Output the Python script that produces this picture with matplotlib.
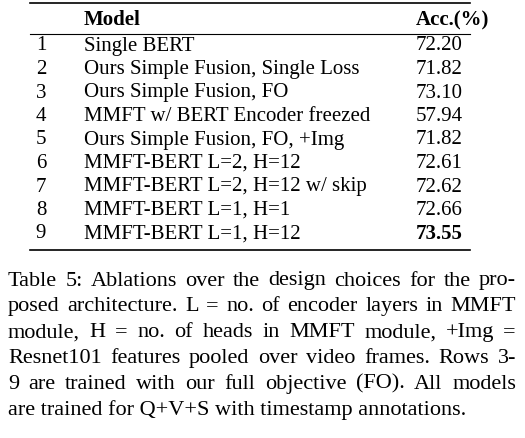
import matplotlib.pyplot as plt

plt.rcParams['font.family'] = ['Liberation Serif', 'DejaVu Serif']

row_ids = ["1", "2", "3", "4", "5", "6", "7", "8", "9"]
models = ["Single BERT",
          "Ours Simple Fusion, Single Loss",
          "Ours Simple Fusion, FO",
          "MMFT w/ BERT Encoder freezed",
          "Ours Simple Fusion, FO, +Img",
          "MMFT-BERT L=2, H=12",
          "MMFT-BERT L=2, H=12 w/ skip",
          "MMFT-BERT L=1, H=1",
          "MMFT-BERT L=1, H=12"]
accs = ["72.20", "71.82", "73.10", "57.94", "71.82", "72.61", "72.62", "72.66", "73.55"]
best = 8

caption = ["Table 5: Ablations over the design choices for the pro-",
           "posed architecture. L = no. of encoder layers in MMFT",
           "module, H = no. of heads in MMFT module, +Img =",
           "Resnet101 features pooled over video frames. Rows 3-",
           "9 are trained with our full objective (FO). All models",
           "are trained for Q+V+S with timestamp annotations."]

fig = plt.figure(figsize=(5.25, 4.38), dpi=100)
ax = fig.add_axes([0, 0, 1, 1])
ax.set_xlim(0, 525)
ax.set_ylim(438, 0)
ax.axis('off')

fs = 15
ax.plot([30, 470], [3, 3], color='black', lw=1.2)
ax.plot([30, 470], [34, 34], color='black', lw=0.8)
ax.plot([30, 470], [250, 250], color='black', lw=1.2)

ax.text(84, 20, "Model", fontsize=fs, fontweight='bold', va='center')
ax.text(416, 20, "Acc.(%)", fontsize=fs, fontweight='bold', va='center')

for i, (n, m, a) in enumerate(zip(row_ids, models, accs)):
    y = 46 + i * 23.5
    ax.text(41, y, n, fontsize=fs, va='center', ha='center')
    ax.text(84, y, m, fontsize=fs, va='center')
    ax.text(416, y, a, fontsize=fs, va='center',
            fontweight='bold' if i == best else 'normal')

# justified caption: measure words, spread the gaps to fill the line
renderer = fig.canvas.get_renderer()
left, right = 8, 516
cfs = 16
for i, line in enumerate(caption):
    y = 281 + i * 25.8
    words = line.split()
    if i == len(caption) - 1:
        ax.text(left, y, line, fontsize=cfs, va='center')
        continue
    texts = [ax.text(0, y, w, fontsize=cfs, va='center') for w in words]
    widths = [t.get_window_extent(renderer).width for t in texts]
    gap = (right - left - sum(widths)) / (len(words) - 1)
    x = left
    for t, w in zip(texts, widths):
        t.set_x(x)
        x += w + gap

fig.savefig("out.png", dpi=100)
